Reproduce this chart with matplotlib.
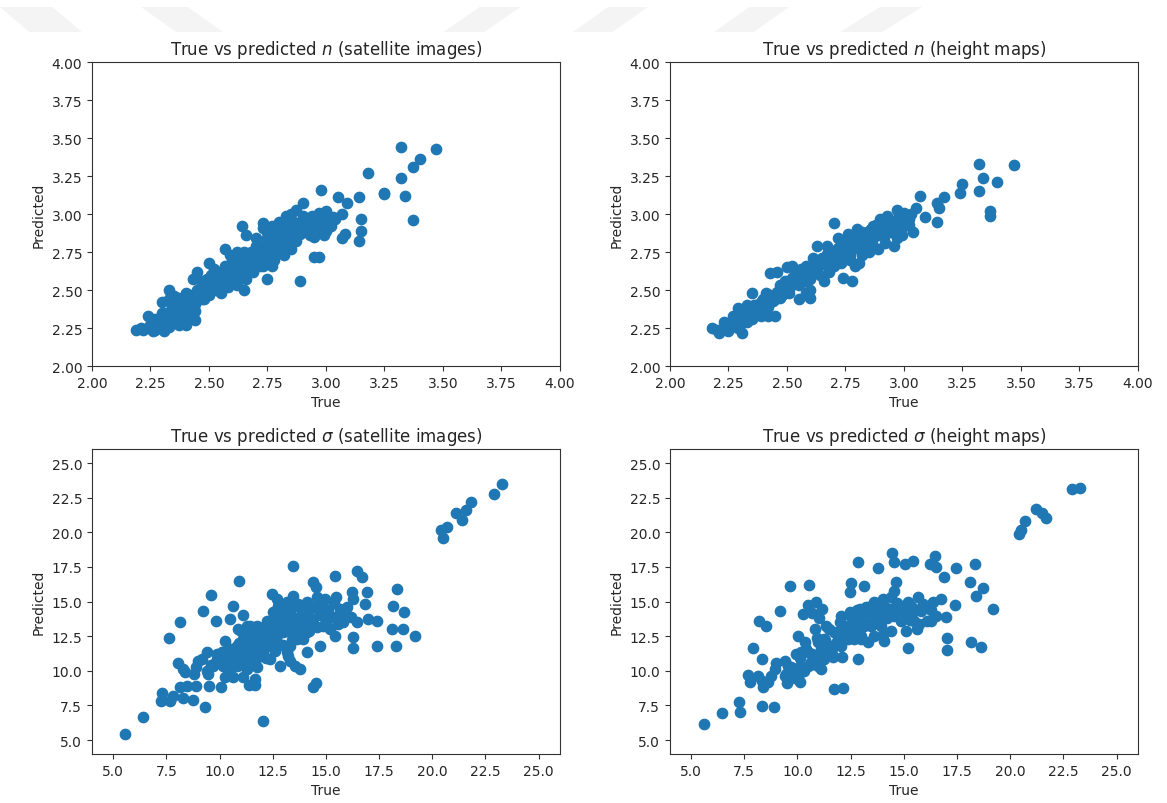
import matplotlib
matplotlib.use("Agg")
import matplotlib.pyplot as plt
from matplotlib.patches import Polygon

# ---------------- data: n, satellite images ----------------
n_sat_true = [2.19, 2.22, 2.24, 2.26, 2.28, 2.31, 2.32, 2.34, 2.37, 2.40, 2.24, 2.27, 2.30, 2.30, 2.33, 2.33,
              2.35, 2.34, 2.37, 2.40, 2.42, 2.40, 2.43, 2.44, 2.39, 2.36, 2.32, 2.30,
              2.43, 2.45, 2.47, 2.48, 2.45, 2.50, 2.52, 2.51, 2.53, 2.55, 2.55, 2.57, 2.58, 2.59, 2.60, 2.62,
              2.65, 2.63, 2.65, 2.62, 2.59, 2.56, 2.53, 2.49, 2.47,
              2.66, 2.68, 2.69, 2.70, 2.72, 2.73, 2.75, 2.76, 2.77, 2.78, 2.79, 2.80, 2.81, 2.83, 2.85, 2.85,
              2.82, 2.87, 2.87, 2.86, 2.88, 2.75, 2.70, 2.68, 2.73, 2.77, 2.73, 2.80,
              2.90, 2.92, 2.93, 2.94, 2.97, 3.00, 3.01, 3.02, 2.99, 2.97, 2.97, 3.00, 3.04, 3.02, 2.92, 2.85,
              2.89, 2.93,
              3.32, 3.47, 3.40, 3.37, 3.18, 3.32, 2.98, 3.25, 3.25, 3.34, 3.05, 3.14, 3.09, 2.90, 3.37, 3.07,
              3.15, 3.15, 3.14, 3.08, 3.07, 2.95, 2.99, 2.95, 2.97, 2.89, 2.75, 2.64, 2.66, 2.73, 2.73,
              2.21, 2.25, 2.27, 2.29, 2.31, 2.33, 2.35, 2.36, 2.38, 2.39, 2.41, 2.42, 2.44, 2.45, 2.46, 2.47,
              2.48, 2.49, 2.50, 2.51, 2.52, 2.53, 2.54, 2.55, 2.56, 2.57, 2.57, 2.58, 2.59, 2.60, 2.60, 2.61,
              2.62, 2.63, 2.63, 2.64, 2.65, 2.66, 2.67, 2.67, 2.68, 2.69, 2.70, 2.70, 2.71, 2.72, 2.73, 2.74,
              2.75, 2.76, 2.77, 2.78, 2.78, 2.79, 2.80, 2.81, 2.82, 2.83, 2.84, 2.84, 2.86, 2.87, 2.88, 2.89,
              2.90, 2.91, 2.93, 2.94, 2.95, 2.96, 2.98, 2.99, 3.01, 3.03, 2.27, 2.33, 2.40, 2.37, 2.44]
n_sat_pred = [2.24, 2.24, 2.25, 2.23, 2.25, 2.23, 2.27, 2.28, 2.27, 2.27, 2.33, 2.31, 2.29, 2.42, 2.50, 2.44,
              2.46, 2.39, 2.40, 2.48, 2.44, 2.35, 2.35, 2.30, 2.31, 2.33, 2.35, 2.35,
              2.57, 2.62, 2.53, 2.44, 2.46, 2.68, 2.64, 2.55, 2.50, 2.48, 2.57, 2.77, 2.66, 2.73, 2.59, 2.53,
              2.50, 2.66, 2.75, 2.75, 2.62, 2.62, 2.62, 2.57, 2.44,
              2.57, 2.65, 2.70, 2.79, 2.66, 2.73, 2.84, 2.77, 2.66, 2.70, 2.88, 2.95, 2.81, 2.99, 2.90, 2.77,
              2.73, 3.03, 2.86, 2.95, 2.90, 2.88, 2.84, 2.75, 2.66, 2.92, 2.79, 2.75,
              2.99, 2.92, 2.97, 2.99, 3.01, 3.02, 2.99, 2.95, 2.92, 2.97, 2.88, 2.89, 2.97, 2.92, 2.95, 3.00,
              2.95, 2.86,
              3.44, 3.43, 3.36, 3.31, 3.27, 3.24, 3.16, 3.14, 3.13, 3.12, 3.11, 3.11, 3.07, 3.07, 2.96, 3.00,
              2.97, 2.89, 2.82, 2.87, 2.84, 2.85, 2.86, 2.72, 2.72, 2.56, 2.57, 2.92, 2.86, 2.94, 2.91,
              2.25, 2.27, 2.24, 2.31, 2.27, 2.33, 2.30, 2.37, 2.33, 2.42, 2.38, 2.47, 2.41, 2.50, 2.45, 2.56,
              2.49, 2.52, 2.47, 2.60, 2.53, 2.57, 2.51, 2.62, 2.55, 2.66, 2.58, 2.52, 2.63, 2.69, 2.55, 2.61,
              2.66, 2.58, 2.71, 2.63, 2.68, 2.60, 2.72, 2.65, 2.69, 2.62, 2.74, 2.67, 2.71, 2.78, 2.69, 2.75,
              2.81, 2.72, 2.79, 2.84, 2.75, 2.81, 2.77, 2.86, 2.80, 2.91, 2.84, 2.95, 2.88, 2.82, 2.93, 2.87,
              2.96, 2.90, 2.93, 2.88, 2.97, 2.93, 2.95, 2.99, 2.95, 2.98, 2.28, 2.26, 2.30, 2.45, 2.36]

# ---------------- data: n, height maps ----------------
n_hm_true = [3.32, 3.47, 3.34, 3.40, 3.25, 3.24, 3.32, 3.07, 3.17, 3.14, 3.15, 3.37, 3.37, 3.14, 3.05, 3.09,
             3.04, 2.70, 2.78, 2.74, 2.45, 2.60, 2.55,
             2.18, 2.21, 2.23, 2.25, 2.27, 2.29, 2.31, 2.32, 2.35, 2.35, 2.33, 2.38, 2.39, 2.41, 2.42, 2.43,
             2.46, 2.47, 2.43, 2.39, 2.30, 2.27, 2.24, 2.31, 2.36, 2.45, 2.48,
             2.50, 2.52, 2.53, 2.55, 2.56, 2.58, 2.61, 2.62, 2.60, 2.63, 2.65, 2.66, 2.67, 2.68, 2.69, 2.70,
             2.72, 2.73, 2.75, 2.76, 2.77, 2.78, 2.79, 2.80, 2.81, 2.82, 2.83, 2.85, 2.85, 2.87, 2.87, 2.89,
             2.90, 2.92, 2.93, 2.95, 2.96, 2.97, 2.98, 2.99, 3.00, 3.00, 3.02, 2.97, 2.92, 2.89, 2.81, 2.49,
             2.51, 2.58,
             2.20, 2.23, 2.26, 2.28, 2.29, 2.31, 2.33, 2.34, 2.36, 2.37, 2.39, 2.40, 2.42, 2.43, 2.44, 2.46,
             2.47, 2.48, 2.49, 2.50, 2.51, 2.52, 2.53, 2.54, 2.55, 2.56, 2.57, 2.58, 2.59, 2.60, 2.61, 2.62,
             2.63, 2.64, 2.65, 2.66, 2.67, 2.68, 2.69, 2.70, 2.71, 2.72, 2.73, 2.74, 2.75, 2.76, 2.77, 2.78,
             2.79, 2.80, 2.81, 2.82, 2.83, 2.84, 2.86, 2.87, 2.88, 2.89, 2.91, 2.92, 2.94, 2.95, 2.97, 2.98,
             3.00, 3.02, 3.03]
n_hm_pred = [3.33, 3.32, 3.24, 3.21, 3.20, 3.14, 3.15, 3.12, 3.11, 3.07, 3.04, 3.02, 2.99, 2.95, 3.04, 2.98,
             2.88, 2.94, 2.56, 2.58, 2.33, 2.45, 2.44,
             2.25, 2.22, 2.29, 2.23, 2.33, 2.38, 2.22, 2.35, 2.48, 2.31, 2.40, 2.35, 2.42, 2.48, 2.33, 2.61,
             2.62, 2.53, 2.42, 2.33, 2.27, 2.27, 2.27, 2.31, 2.40, 2.44, 2.47,
             2.65, 2.66, 2.59, 2.53, 2.62, 2.48, 2.71, 2.62, 2.50, 2.79, 2.68, 2.56, 2.79, 2.62, 2.75, 2.66,
             2.84, 2.73, 2.79, 2.87, 2.70, 2.77, 2.66, 2.90, 2.81, 2.73, 2.84, 2.89, 2.75, 2.92, 2.79, 2.86,
             2.97, 2.90, 2.99, 2.88, 2.79, 3.03, 2.99, 2.86, 2.92, 3.01, 2.97, 2.84, 2.81, 2.77, 2.68, 2.56,
             2.48, 2.56,
             2.24, 2.25, 2.26, 2.30, 2.25, 2.33, 2.29, 2.37, 2.33, 2.40, 2.36, 2.44, 2.39, 2.47, 2.43, 2.49,
             2.45, 2.52, 2.48, 2.55, 2.51, 2.58, 2.54, 2.61, 2.57, 2.64, 2.59, 2.66, 2.61, 2.57, 2.66, 2.70,
             2.64, 2.60, 2.71, 2.67, 2.74, 2.70, 2.66, 2.76, 2.72, 2.78, 2.68, 2.75, 2.82, 2.77, 2.73, 2.81,
             2.86, 2.78, 2.84, 2.88, 2.80, 2.86, 2.90, 2.84, 2.93, 2.88, 2.94, 2.86, 2.96, 2.91, 2.95, 2.92,
             2.97, 2.93, 3.00]

# ---------------- data: sigma, satellite images ----------------
s_sat_true = [20.4, 20.5, 20.7, 21.1, 21.4, 21.6, 21.8, 22.9, 23.3,
              5.55, 6.41, 7.23, 7.28, 7.67, 7.82, 8.26, 8.73, 9.31, 8.14, 8.45, 8.89, 8.37, 8.06, 8.29, 8.89,
              9.16, 9.39, 9.47, 9.52, 9.67, 10.07, 9.86, 7.61, 8.14, 9.20, 9.60, 9.83, 10.65, 10.49, 10.93,
              11.12, 10.25, 10.09, 10.33, 10.25, 10.65, 11.12, 11.40, 11.66, 11.66, 12.06, 10.88, 11.27, 11.74,
              11.74, 11.43, 10.96, 10.65, 11.19, 11.59, 11.90, 12.06, 12.21, 12.45, 12.68, 12.53, 12.76, 12.68,
              12.37, 12.45, 12.61, 12.37, 12.84, 13.15, 13.31, 13.47, 13.55, 13.78, 13.47, 13.31, 13.47, 13.62,
              13.86, 13.94, 14.09, 14.25, 14.41, 14.53, 14.56, 14.41, 14.53, 14.72, 14.72, 14.96, 15.03, 15.19,
              15.43, 15.47, 15.43, 15.58, 15.66, 15.97, 16.21, 16.29, 16.45, 16.68, 16.29, 16.29, 16.45, 16.84,
              16.92, 16.99, 17.39, 17.39, 18.09, 18.17, 18.33, 18.28, 18.61, 18.69, 19.19,
              10.49, 10.80, 11.12, 11.27, 11.43, 10.33, 10.80, 11.27, 12.06, 12.68, 13.00, 13.31, 13.62, 14.09,
              14.41, 14.88, 15.19, 13.94, 13.00, 13.15, 13.62, 14.25, 14.88, 11.43, 11.74, 12.21, 12.68, 10.80,
              9.86, 10.18, 11.12,
              10.2, 10.4, 10.5, 10.6, 10.7, 10.9, 11.0, 11.1, 11.2, 11.3, 11.4, 11.5, 11.6, 11.7, 11.8, 11.9,
              12.0, 12.1, 12.2, 12.3, 12.4, 12.5, 12.6, 12.7, 12.8, 12.9, 13.0, 13.1, 13.2, 13.3, 13.4, 13.5,
              13.6, 13.7, 13.8, 13.9, 14.0, 14.1, 14.2, 14.3, 14.4, 14.6, 14.7, 14.8, 15.0, 15.1, 15.3, 15.4,
              15.6, 15.8, 16.0, 16.2, 9.6, 9.9, 9.4, 8.8, 9.0, 12.0, 13.2, 11.0]
s_sat_pred = [20.2, 19.6, 20.4, 21.4, 20.9, 21.6, 22.2, 22.8, 23.5,
              5.44, 6.69, 7.85, 8.40, 7.85, 8.21, 8.01, 7.89, 7.37, 8.81, 8.93, 8.88, 9.89, 10.54, 10.13, 10.30,
              10.85, 11.33, 9.77, 8.88, 10.37, 8.81, 10.78, 12.34, 13.54, 14.34, 15.49, 13.62, 14.70, 13.74, 16.48,
              14.05, 12.17, 11.33, 10.85, 9.53, 9.53, 9.58, 8.98, 9.41, 8.98, 6.36, 13.01, 13.25, 13.25,
              10.25, 11.09, 11.09, 10.61, 12.29, 11.81, 12.29, 12.77, 11.81, 15.54, 15.18, 14.22, 14.70, 13.50,
              13.50, 12.53, 11.57, 10.85, 10.37, 11.33, 10.73, 15.42, 10.37, 10.13, 17.58, 13.86, 12.53, 13.25,
              14.22, 12.29, 11.33, 13.38, 16.38, 16.02, 15.30, 8.81, 9.10, 14.22, 11.81, 15.18, 13.25, 13.98,
              16.86, 15.30, 12.53, 13.38, 14.46, 13.98, 15.66, 15.18, 17.22, 16.74, 12.41, 11.62, 13.50, 14.82,
              15.66, 13.74, 13.62, 11.81, 13.01, 14.70, 15.90, 11.81, 13.01, 14.26, 12.53,
              11.57, 11.81, 11.33, 10.13, 12.53, 11.33, 10.37, 10.61, 11.33, 12.05, 12.77, 11.81, 12.29, 12.77,
              13.74, 13.25, 13.01, 13.74, 14.22, 14.94, 14.70, 14.70, 14.22, 13.25, 12.53, 13.62, 14.22, 11.33,
              10.85, 10.37, 12.29,
              10.6, 11.0, 10.2, 11.6, 10.8, 12.0, 10.4, 11.0, 11.8, 12.6, 10.8, 11.4, 12.2, 13.0, 11.0, 11.7,
              12.4, 13.2, 10.9, 12.0, 12.8, 13.6, 11.4, 12.6, 13.2, 14.0, 11.9, 12.9, 13.6, 14.4, 12.2, 13.0,
              13.8, 14.8, 12.6, 13.4, 14.2, 15.0, 12.9, 13.8, 14.6, 13.2, 14.0, 14.8, 13.6, 14.4, 13.9, 14.9,
              14.0, 13.5, 14.6, 13.9, 10.4, 11.2, 10.0, 9.8, 10.7, 11.3, 11.1, 12.9]

# ---------------- data: sigma, height maps ----------------
s_hm_true = [20.4, 20.5, 20.7, 21.2, 21.5, 21.7, 22.9, 23.3,
             5.60, 6.46, 7.23, 7.32, 8.33, 8.89, 7.67, 7.75, 8.14, 8.34, 8.37, 7.90, 8.33, 8.17, 8.50, 9.16,
             9.63, 10.54, 10.49, 10.88, 11.14, 10.69, 10.25, 8.76, 8.92, 9.39, 9.47, 9.52, 9.94, 10.02, 10.10,
             10.18, 10.33, 10.49, 10.80, 10.96, 10.65, 11.12, 11.35, 11.43, 11.74, 12.13, 11.66, 11.90, 12.06,
             12.37, 12.45, 12.50, 12.45, 12.84, 13.15, 12.84, 12.68, 12.92, 13.15, 13.31, 13.47, 13.62, 13.78,
             13.94, 14.09, 14.25, 14.44, 14.56, 14.63, 14.56, 14.38, 14.72, 14.88, 15.04, 15.43, 15.19, 15.11,
             15.35, 15.50, 15.66, 15.82, 15.63, 16.21, 16.45, 16.49, 16.37, 16.29, 16.52, 16.76, 16.88, 16.99,
             17.04, 17.04, 17.39, 17.46, 18.12, 18.33, 18.40, 18.17, 18.64, 18.72, 19.17,
             10.18, 10.49, 10.80, 11.12, 11.27, 11.74, 12.06, 12.37, 12.68, 13.00, 13.31, 13.62, 13.78, 14.09,
             14.41, 14.88, 15.19, 13.47, 13.94, 13.00, 11.74, 10.96, 9.86, 9.55, 11.27, 12.21, 13.62, 14.56,
             15.50, 10.10,
             9.4, 9.7, 9.9, 10.1, 10.3, 10.4, 10.6, 10.7, 10.9, 11.0, 11.2, 11.3, 11.5, 11.6, 11.8, 11.9,
             12.0, 12.2, 12.3, 12.4, 12.6, 12.7, 12.8, 13.0, 13.1, 13.2, 13.4, 13.5, 13.6, 13.8, 13.9, 14.0,
             14.2, 14.3, 14.4, 14.6, 14.7, 14.9, 15.0, 15.2, 15.3, 15.5, 15.7, 15.9, 16.1, 16.3, 9.0, 8.6,
             12.1, 13.0, 14.0, 11.0]
s_hm_pred = [19.9, 20.2, 20.8, 21.7, 21.4, 21.0, 23.1, 23.2,
             6.16, 6.96, 7.77, 7.05, 7.49, 7.37, 9.70, 9.17, 9.60, 9.29, 8.81, 11.62, 10.85, 13.62, 13.25, 14.34,
             16.14, 16.19, 14.75, 14.99, 14.50, 14.17, 14.10, 9.65, 10.13, 10.73, 9.77, 9.10, 11.21, 12.53, 9.17,
             9.89, 12.05, 11.33, 13.01, 12.05, 10.61, 10.13, 13.25, 11.81, 8.69, 8.74, 10.97, 12.29, 13.98,
             13.25, 14.22, 16.31, 15.66, 17.89, 16.14, 10.85, 12.29, 14.46, 13.25, 12.05, 14.70, 13.62, 17.41,
             14.94, 12.17, 13.98, 18.54, 17.87, 16.43, 15.75, 12.89, 14.70, 13.62, 17.75, 17.94, 11.64, 12.89,
             14.70, 13.62, 15.30, 14.34, 13.01, 17.70, 18.30, 17.51, 14.94, 13.62, 13.98, 15.18, 16.74, 13.86,
             12.34, 11.52, 14.75, 17.39, 16.38, 17.73, 15.42, 12.05, 11.74, 15.95, 14.46,
             11.33, 10.37, 11.09, 11.57, 12.29, 12.77, 11.81, 12.29, 13.25, 13.74, 14.22, 14.70, 13.98, 14.70,
             14.46, 14.70, 14.22, 13.25, 13.25, 12.53, 11.81, 10.37, 9.89, 10.37, 10.85, 12.77, 12.53, 13.98,
             14.46, 10.37,
             9.6, 10.3, 9.5, 10.9, 10.0, 11.6, 10.4, 11.2, 12.4, 10.6, 11.4, 12.2, 13.0, 11.2, 12.0, 12.8,
             13.5, 12.4, 13.2, 14.0, 12.8, 13.6, 14.4, 13.1, 13.9, 14.6, 13.4, 14.2, 15.0, 13.6, 14.4, 15.2,
             13.8, 14.5, 15.3, 14.2, 14.9, 13.9, 14.5, 15.0, 13.7, 14.3, 13.4, 14.8, 13.6, 14.4, 10.6, 9.2,
             11.0, 12.3, 12.6, 13.8]

titles = [r"True vs predicted $n$ (satellite images)", r"True vs predicted $n$ (height maps)",
          r"True vs predicted $\sigma$ (satellite images)", r"True vs predicted $\sigma$ (height maps)"]
panels = [(n_sat_true, n_sat_pred), (n_hm_true, n_hm_pred),
          (s_sat_true, s_sat_pred), (s_hm_true, s_hm_pred)]

plt.rcParams['font.family'] = ['DejaVu Sans']
fig = plt.figure(figsize=(11.67, 8.04), dpi=100)

# faint watermark stripes at the top of the page
stripes = [[(0, 0.99), (0.045, 0.99), (0.07, 0.959), (0.025, 0.959)],
           [(0.121, 0.99), (0.161, 0.99), (0.191, 0.959), (0.151, 0.959)],
           [(0.38, 0.959), (0.415, 0.959), (0.446, 0.99), (0.411, 0.99)],
           [(0.491, 0.959), (0.525, 0.959), (0.555, 0.99), (0.521, 0.99)],
           [(0.612, 0.959), (0.646, 0.959), (0.676, 0.99), (0.642, 0.99)],
           [(0.72, 0.959), (0.756, 0.959), (0.79, 0.99), (0.754, 0.99)]]
for st in stripes:
    fig.patches.append(Polygon(st, closed=True, transform=fig.transFigure,
                               facecolor='#f4f4f4', edgecolor='none', zorder=0))

positions = [[0.0788, 0.5435, 0.401, 0.378], [0.574, 0.5435, 0.401, 0.378],
             [0.0788, 0.061, 0.401, 0.379], [0.574, 0.061, 0.401, 0.379]]
limits = [(2, 4), (2, 4), (4, 26), (4, 26)]

for i, ((xt, yp), title) in enumerate(zip(panels, titles)):
    ax = fig.add_axes(positions[i])
    ax.scatter(xt, yp, s=55, color='#1f77b4', zorder=3)
    ax.set_xlim(*limits[i])
    ax.set_ylim(*limits[i])
    if i < 2:
        ticks = [2.00, 2.25, 2.50, 2.75, 3.00, 3.25, 3.50, 3.75, 4.00]
        ax.set_xticks(ticks)
        ax.set_yticks(ticks)
        ax.set_xticklabels([f"{t:.2f}" for t in ticks])
        ax.set_yticklabels([f"{t:.2f}" for t in ticks])
    else:
        ticks = [5.0, 7.5, 10.0, 12.5, 15.0, 17.5, 20.0, 22.5, 25.0]
        ax.set_xticks(ticks)
        ax.set_yticks(ticks)
        ax.set_xticklabels([f"{t:.1f}" for t in ticks])
        ax.set_yticklabels([f"{t:.1f}" for t in ticks])
    ax.set_title(title, fontsize=12, color='#262626')
    ax.set_xlabel("True", fontsize=10, color='#262626')
    ax.set_ylabel("Predicted", fontsize=10, color='#262626')
    ax.tick_params(labelsize=10, colors='#333333', labelcolor='#262626')
    for sp in ax.spines.values():
        sp.set_color('#333333')

fig.savefig("out.png", dpi=100)
